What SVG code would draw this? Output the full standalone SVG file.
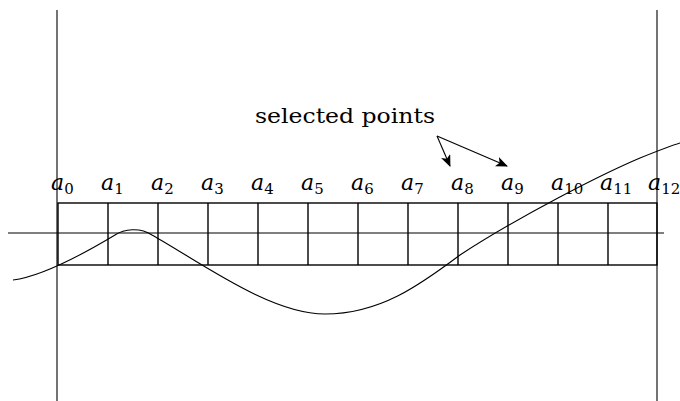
<svg xmlns="http://www.w3.org/2000/svg" width="680" height="401" viewBox="0 0 680 401">
<defs>
<marker id="ah" viewBox="0 0 12 10" refX="11" refY="5" markerWidth="12" markerHeight="10" markerUnits="userSpaceOnUse" orient="auto">
<path d="M0,0 L12,5 L0,10 L3,5 Z" fill="#000"/>
</marker>
</defs>
<style>
.ln{stroke:#000;stroke-width:1.1;fill:none}
.cell{stroke:#000;stroke-width:1.4;fill:none}
.lbl{font-family:"DejaVu Serif","Liberation Serif",serif;font-style:italic;font-size:22px;fill:#000}
.sub{font-family:"DejaVu Serif","Liberation Serif",serif;font-style:normal;font-size:15px}
.txt{font-family:"DejaVu Serif","Liberation Serif",serif;font-size:20px;fill:#000}
</style>
<g id="axes">
<line class="ln" x1="57" y1="10" x2="57" y2="401"/>
<line class="ln" x1="657" y1="10" x2="657" y2="401"/>
<line class="ln" x1="8" y1="233" x2="664" y2="233"/>
</g>
<g id="cells">
<rect class="cell" x="58" y="203" width="599" height="62"/>
<line class="cell" x1="108" y1="203" x2="108" y2="265"/>
<line class="cell" x1="158" y1="203" x2="158" y2="265"/>
<line class="cell" x1="208" y1="203" x2="208" y2="265"/>
<line class="cell" x1="258" y1="203" x2="258" y2="265"/>
<line class="cell" x1="308" y1="203" x2="308" y2="265"/>
<line class="cell" x1="358" y1="203" x2="358" y2="265"/>
<line class="cell" x1="408" y1="203" x2="408" y2="265"/>
<line class="cell" x1="458" y1="203" x2="458" y2="265"/>
<line class="cell" x1="508" y1="203" x2="508" y2="265"/>
<line class="cell" x1="558" y1="203" x2="558" y2="265"/>
<line class="cell" x1="608" y1="203" x2="608" y2="265"/>
</g>
<g id="curve">
<path class="ln" d="M13,280 C45,276 90,250 115,235 C124,229 140,227 152,235 C200,262 270,314 325,314 C380,314 420,285 460,255 C520,216 600,175 640,158 C660,150 670,146 680,143"/>
</g>
<g id="labels">
<text class="lbl" x="51" y="190">a<tspan class="sub" dy="4">0</tspan></text>
<text class="lbl" x="101" y="190">a<tspan class="sub" dy="4">1</tspan></text>
<text class="lbl" x="151" y="190">a<tspan class="sub" dy="4">2</tspan></text>
<text class="lbl" x="201" y="190">a<tspan class="sub" dy="4">3</tspan></text>
<text class="lbl" x="251" y="190">a<tspan class="sub" dy="4">4</tspan></text>
<text class="lbl" x="301" y="190">a<tspan class="sub" dy="4">5</tspan></text>
<text class="lbl" x="351" y="190">a<tspan class="sub" dy="4">6</tspan></text>
<text class="lbl" x="401" y="190">a<tspan class="sub" dy="4">7</tspan></text>
<text class="lbl" x="451" y="190">a<tspan class="sub" dy="4">8</tspan></text>
<text class="lbl" x="501" y="190">a<tspan class="sub" dy="4">9</tspan></text>
<text class="lbl" x="551" y="190">a<tspan class="sub" dy="4">10</tspan></text>
<text class="lbl" x="600" y="190">a<tspan class="sub" dy="4">11</tspan></text>
<text class="lbl" x="648" y="190">a<tspan class="sub" dy="4">12</tspan></text>
</g>
<g id="selected">
<text class="txt" x="255" y="123" textLength="180" lengthAdjust="spacingAndGlyphs">selected points</text>
</g>
<g id="connectors">
<line class="ln" x1="437" y1="136" x2="450" y2="166" marker-end="url(#ah)"/>
<line class="ln" x1="437" y1="136" x2="507" y2="166" marker-end="url(#ah)"/>
</g>
</svg>
